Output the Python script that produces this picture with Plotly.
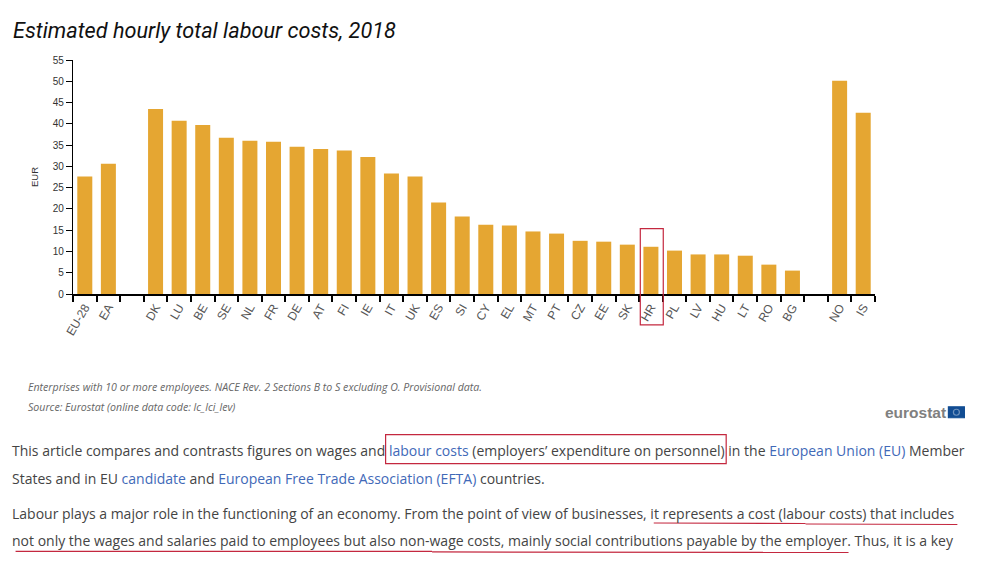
import plotly.graph_objects as go

# blank entries are the gaps between the groups of countries
countries = ["EU-28", "EA", " ", "DK", "LU", "BE", "SE", "NL", "FR", "DE", "AT", "FI", "IE", "IT", "UK",
             "ES", "SI", "CY", "EL", "MT", "PT", "CZ", "EE", "SK", "HR", "PL", "LV", "HU", "LT", "RO", "BG",
             "  ", "NO", "IS"]
labour_costs = [27.6, 30.6, None, 43.5, 40.7, 39.7, 36.7, 36.0, 35.8, 34.6, 34.1, 33.7, 32.2, 28.3, 27.6,
                21.5, 18.2, 16.3, 16.1, 14.7, 14.2, 12.5, 12.3, 11.6, 11.1, 10.2, 9.3, 9.3, 9.0, 6.9, 5.5,
                None, 50.1, 42.6]
y_ticks = list(range(0, 60, 5))

# the page body has an 8px margin, so the figure sits at (8, 8)
PAGE_MARGIN = 8
W, H = 1000 - 2 * PAGE_MARGIN, 562 - 2 * PAGE_MARGIN
LINK = "#4169b8"
TEXT = "#444444"
RED = "#c4283f"
LEFT, RIGHT, TOP, BOTTOM = 72.5, 875.5, 60, 294.5


def px_x(x):
    return (x - LEFT) / (RIGHT - LEFT)


def px_y(y):
    return (BOTTOM - y) / (BOTTOM - TOP)


def link(s):
    return f'<span style="color:{LINK}">{s}</span>'


def page_text(x, y, text, size=14, color=TEXT, family="Open Sans", anchor="left"):
    fig.add_annotation(xref="paper", yref="paper", x=px_x(x), y=px_y(y), text=text, showarrow=False,
                       xanchor=anchor, yanchor="middle", borderpad=0, font=dict(family=family, size=size, color=color))


def page_line(x0, y0, x1, y1):
    fig.add_shape(type="line", xref="paper", yref="paper", x0=px_x(x0), y0=px_y(y0), x1=px_x(x1), y1=px_y(y1),
                  line=dict(color=RED, width=1.2))


def page_box(x0, y0, x1, y1, color=RED, fill=None, kind="rect"):
    fig.add_shape(type=kind, xref="paper", yref="paper", x0=px_x(x0), y0=px_y(y0), x1=px_x(x1), y1=px_y(y1),
                  line=dict(color=color, width=1.2), fillcolor=fill)


fig = go.Figure(
    go.Bar(x=countries, y=labour_costs, marker_color="#e5a632", marker_line_width=0, width=0.636)
)

fig.update_layout(
    width=W,
    height=H,
    autosize=False,
    showlegend=False,
    plot_bgcolor="white",
    paper_bgcolor="white",
    margin=dict(l=LEFT - PAGE_MARGIN, r=W + PAGE_MARGIN - RIGHT, t=TOP - PAGE_MARGIN,
                b=H + PAGE_MARGIN - BOTTOM, pad=0),
)
fig.update_xaxes(
    type="category",
    categoryorder="array",
    categoryarray=countries,
    range=[-0.5, len(countries) - 0.5],
    tickson="boundaries",
    ticks="outside",
    ticklen=6,
    tickwidth=1.5,
    tickcolor="black",
    showline=True,
    linecolor="black",
    linewidth=1.5,
    showgrid=False,
    tickangle=-60,
    tickfont=dict(family="Liberation Sans", size=12, color="#555555"),
)
fig.update_yaxes(
    range=[0, 55],
    tickvals=y_ticks,
    ticks="outside",
    ticklen=6,
    tickwidth=1,
    tickcolor="black",
    showline=True,
    linecolor="black",
    linewidth=1.2,
    showgrid=False,
    zeroline=False,
    tickfont=dict(family="Liberation Sans", size=10, color="#333333"),
    title=dict(text="EUR", font=dict(family="Liberation Sans", size=9.5, color="#333333"), standoff=12),
)

page_text(11, 30, "<i>Estimated hourly total labour costs, 2018</i>", size=21.7, color="#111111", family="Roboto")
page_text(26, 387.5, "<i>Enterprises with 10 or more employees. NACE Rev. 2 Sections B to S excluding O. Provisional data.</i>",
          size=10.6, color="#666666")
page_text(26, 407.5, "<i>Source: Eurostat (online data code: lc_lci_lev)</i>", size=10.6, color="#666666")

page_text(948, 413, "<b>eurostat</b>", size=15.5, color="#808080", family="Liberation Sans", anchor="right")
page_box(949, 407.5, 965, 418.5, color="#124d93", fill="#124d93")
page_box(954, 410, 960, 416, color="#6f93bd", kind="circle")

page_text(10, 451, "This article compares and contrasts figures on wages and " + link("labour costs")
          + " (employers’ expenditure on personnel) in the " + link("European Union (EU)") + " Member")
page_text(10, 479, "States and in EU " + link("candidate") + " and "
          + link("European Free Trade Association (EFTA)") + " countries.")
page_text(10, 514, "Labour plays a major role in the functioning of an economy. From the point of view of businesses, "
          "it represents a cost (labour costs) that includes")
page_text(10, 542, "not only the wages and salaries paid to employees but also non-wage costs, mainly social "
          "contributions payable by the employer. Thus, it is a key")

# highlights drawn on top of the page
page_box(640.5, 229, 663.5, 325.5)
page_box(385.5, 435.5, 726.5, 464.5)
page_line(654, 524, 806, 524.5)
page_line(806, 525, 958, 525.5)
page_line(15, 552.5, 432, 552.5)
page_line(432, 553, 849, 553.5)

fig.write_html("out.html")
